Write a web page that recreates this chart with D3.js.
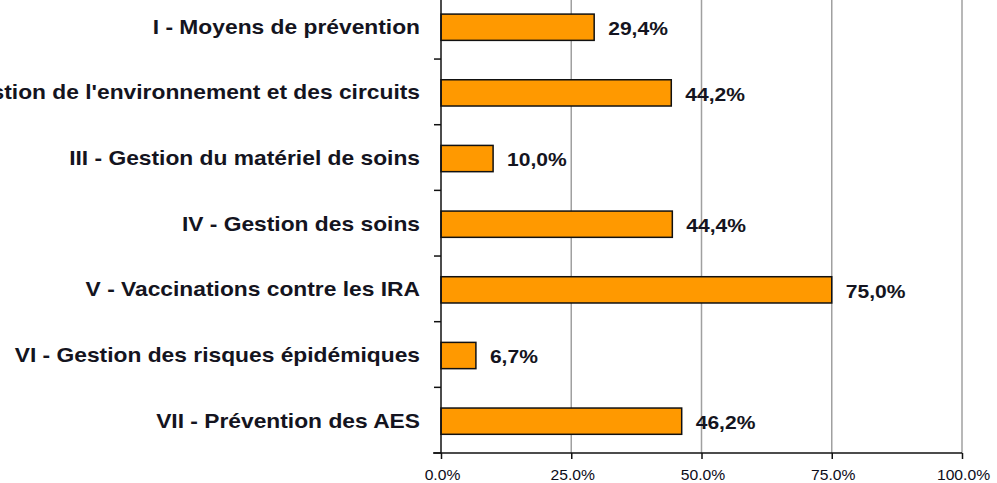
<!DOCTYPE html>
<html>
<head>
<meta charset="utf-8">
<script src="https://cdn.jsdelivr.net/npm/d3@7"></script>
<style>
  body { margin: 0; background: #fff; }
  svg { display: block; font-family: "Liberation Sans", Arial, sans-serif; }
</style>
</head>
<body>
<svg width="997" height="483"></svg>
<script>
var categories = [
    "I - Moyens de prévention",
    "II - Gestion de l'environnement et des circuits",
    "III - Gestion du matériel de soins",
    "IV - Gestion des soins",
    "V - Vaccinations contre les IRA",
    "VI - Gestion des risques épidémiques",
    "VII - Prévention des AES"
];
var values = [29.4, 44.2, 10.0, 44.4, 75.0, 6.7, 46.2];
var xTicks = [0, 25, 50, 75, 100];

var svg = d3.select("svg");

var x0 = 441, x1 = 962,
    yTop = -6.6, yBottom = 453;

var x = d3.scaleLinear().domain([0, 100]).range([x0, x1]);
var y = d3.scaleBand()
    .domain(categories)
    .range([yTop, yBottom])
    .paddingInner(0.6)
    .paddingOuter(0.3);

// text in the original is a bit wider than Arial
function stretched(sel, sx) {
    sel.attr("transform", function() {
        var t = d3.select(this);
        return "translate(" + t.attr("x") + "," + t.attr("y") + ") scale(" + sx + ",1)";
    }).attr("x", 0).attr("y", 0);
}

// gridlines
svg.append("g")
    .selectAll("line")
    .data(xTicks.slice(1))
    .enter().append("line")
    .attr("x1", function(d) { return x(d); })
    .attr("x2", function(d) { return x(d); })
    .attr("y1", yTop)
    .attr("y2", yBottom)
    .attr("stroke", "#a0a0a0")
    .attr("stroke-width", 1.5);

// bars
svg.append("g")
    .selectAll("rect")
    .data(values)
    .enter().append("rect")
    .attr("x", x(0))
    .attr("y", function(d, i) { return y(categories[i]) + 1; })
    .attr("width", function(d) { return x(d) - x(0); })
    .attr("height", y.bandwidth())
    .attr("fill", "#ff9900")
    .attr("stroke", "#111")
    .attr("stroke-width", 1.5);

// value labels
svg.append("g")
    .selectAll("text")
    .data(values)
    .enter().append("text")
    .attr("x", function(d) { return x(d) + 14; })
    .attr("y", function(d, i) { return y(categories[i]) + 1 + y.bandwidth() / 2 + 1.5; })
    .attr("dy", "0.35em")
    .attr("font-size", 18)
    .attr("font-weight", "bold")
    .attr("fill", "#141420")
    .text(function(d) { return d.toFixed(1).replace(".", ",") + "%"; })
    .call(stretched, 1.17);

// y axis with ticks between categories
var step = y.step();
var yAxis = svg.append("g");
yAxis.append("line")
    .attr("x1", x0).attr("x2", x0)
    .attr("y1", yTop).attr("y2", yBottom)
    .attr("stroke", "#111").attr("stroke-width", 1.5);
yAxis.selectAll("line.tick")
    .data(d3.range(categories.length + 1))
    .enter().append("line")
    .attr("class", "tick")
    .attr("x1", x0 - 7).attr("x2", x0)
    .attr("y1", function(i) { return yTop + i * step; })
    .attr("y2", function(i) { return yTop + i * step; })
    .attr("stroke", "#111").attr("stroke-width", 1.5);
yAxis.selectAll("text")
    .data(categories)
    .enter().append("text")
    .attr("x", x0 - 21)
    .attr("y", function(d) { return y(d) + 1 + y.bandwidth() / 2 - 0.5; })
    .attr("dy", "0.35em")
    .attr("text-anchor", "end")
    .attr("font-size", 20)
    .attr("font-weight", "bold")
    .attr("fill", "#141420")
    .text(function(d) { return d; })
    .call(stretched, 1.14);

// x axis
var xAxis = svg.append("g")
    .attr("transform", "translate(0," + yBottom + ")")
    .call(d3.axisBottom(x)
        .tickValues(xTicks)
        .tickSize(6)
        .tickFormat(function(d) { return d.toFixed(1) + "%"; }));
xAxis.select(".domain")
    .attr("stroke", "#111").attr("stroke-width", 1.5)
    .attr("d", "M" + (x0 - 8) + ",0H" + x1);
xAxis.selectAll(".tick line").attr("stroke", "#111").attr("stroke-width", 1.5);
xAxis.selectAll(".tick text")
    .attr("font-family", "Liberation Sans, Arial, sans-serif")
    .attr("font-size", 14)
    .attr("fill", "#0c0c18")
    .attr("x", 1)
    .attr("y", 27)
    .attr("dy", 0)
    .call(stretched, 1.12);
</script>
</body>
</html>
